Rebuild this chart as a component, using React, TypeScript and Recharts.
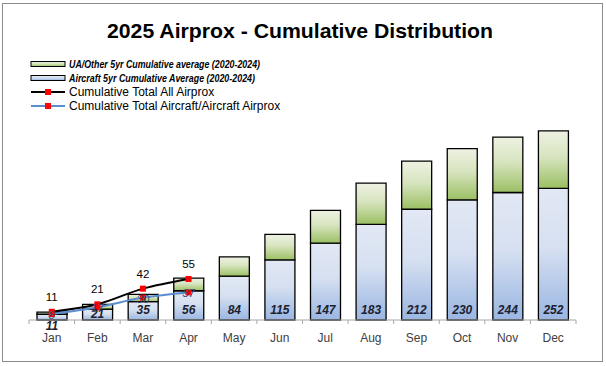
import React from 'react';
import { ComposedChart, Bar, Line, XAxis, YAxis, LabelList, Legend } from 'recharts';

const months = ['Jan', 'Feb', 'Mar', 'Apr', 'May', 'Jun', 'Jul', 'Aug', 'Sep', 'Oct', 'Nov', 'Dec'];
const aircraftAvg = [11, 21, 35, 56, 84, 115, 147, 183, 212, 230, 244, 252];
const uaOtherAvg = [4, 9, 14, 24, 37, 49, 63, 79, 92, 98, 106, 110];
const totalAll = [11, 21, 42, 55];
const totalAircraft = [8, 17, 30, 37];

const TITLE = '2025 Airprox - Cumulative Distribution';
const LEGEND_UA = 'UA/Other 5yr Cumulative average (2020-2024)';
const LEGEND_AC = 'Aircraft 5yr Cumulative Average (2020-2024)';
const LEGEND_ALL = 'Cumulative Total All Airprox';
const LEGEND_ACAC = 'Cumulative Total Aircraft/Aircraft Airprox';

const data = months.map((m, i) => ({
  month: m,
  aircraft: aircraftAvg[i],
  ua: uaOtherAvg[i],
  all: i < totalAll.length ? totalAll[i] : null,
  acac: i < totalAircraft.length ? totalAircraft[i] : null,
}));

const W = 606;
const H = 366;
const MARGIN = { top: 111, right: 30, left: 29, bottom: 16 };
const BAND = (W - MARGIN.left - MARGIN.right) / months.length;
const FONT = '"Liberation Sans", Arial, sans-serif';

const GradDefs = ({ prefix }: { prefix: string }) => (
  <defs>
    <linearGradient id={`${prefix}blue`} x1="0" y1="0" x2="0" y2="1">
      <stop offset="0%" stopColor="#e2e8f4" />
      <stop offset="45%" stopColor="#d6e0f1" />
      <stop offset="100%" stopColor="#9ab6e2" />
    </linearGradient>
    <linearGradient id={`${prefix}green`} x1="0" y1="0" x2="0" y2="1">
      <stop offset="0%" stopColor="#eef2e3" />
      <stop offset="45%" stopColor="#d7e4bf" />
      <stop offset="100%" stopColor="#9bc063" />
    </linearGradient>
  </defs>
);

const RedSquare = (props: any) => {
  const { cx, cy, value } = props;
  if (value === null || value === undefined || cx == null || cy == null) return null;
  return <rect x={cx - 3} y={cy - 3} width={6} height={6} fill="#ff0000" />;
};

const BarBaseLabel = (props: any) => {
  const { x, y, width, height, value } = props;
  const base = y + height;
  const cy = height < 8 ? base + 6 : Math.max(base - 10, y + 5);
  return (
    <text x={x + width / 2} y={cy} textAnchor="middle" dominantBaseline="central"
      fontSize={12} fontWeight="bold" fontStyle="italic" fill="#1c2230" fontFamily={FONT}>
      {value}
    </text>
  );
};

const AllLabel = (props: any) => {
  const { x, y, value } = props;
  if (value === null || value === undefined) return null;
  return (
    <text x={x} y={y - 15} textAnchor="middle" dominantBaseline="central"
      fontSize={11.5} fill="#000" fontFamily={FONT}>
      {value}
    </text>
  );
};

const AcLabel = (props: any) => {
  const { x, y, value } = props;
  if (value === null || value === undefined) return null;
  return (
    <text x={x} y={y + 1} textAnchor="middle" dominantBaseline="central"
      fontSize={11.5} fill="#3a5078" fontStyle="italic" fontFamily={FONT}>
      {value}
    </text>
  );
};

const MonthTick = (props: any) => {
  const { x, y, payload, index } = props;
  const last = index === months.length - 1;
  return (
    <g>
      <line x1={x - BAND / 2} x2={x - BAND / 2} y1={y} y2={y + 4} stroke="#a6a6a6" />
      {last && <line x1={x + BAND / 2} x2={x + BAND / 2} y1={y} y2={y + 4} stroke="#a6a6a6" />}
      <text x={x} y={y + 18} textAnchor="middle" dominantBaseline="central"
        fontSize={12} fill="#404040" fontFamily={FONT}>
        {payload.value}
      </text>
    </g>
  );
};

const LegendContent = () => {
  const rows = [64, 78, 92, 106];
  return (
    <svg width={W} height={120} style={{ display: 'block' }}>
      <GradDefs prefix="lg" />
      <rect x={31} y={rows[0] - 2.5} width={34} height={5} fill="url(#lggreen)" stroke="#000" strokeWidth={1} />
      <text x={69} y={rows[0]} dominantBaseline="central" fontSize={10.5} fontWeight="bold" fontStyle="italic"
        fontFamily={FONT} fill="#000" textLength={191} lengthAdjust="spacingAndGlyphs">{LEGEND_UA}</text>
      <rect x={31} y={rows[1] - 2.5} width={34} height={5} fill="url(#lgblue)" stroke="#000" strokeWidth={1} />
      <text x={69} y={rows[1]} dominantBaseline="central" fontSize={10.5} fontWeight="bold" fontStyle="italic"
        fontFamily={FONT} fill="#000" textLength={186} lengthAdjust="spacingAndGlyphs">{LEGEND_AC}</text>
      <line x1={31} x2={65} y1={rows[2]} y2={rows[2]} stroke="#000" strokeWidth={2} />
      <rect x={45} y={rows[2] - 3} width={6} height={6} fill="#ff0000" />
      <text x={69} y={rows[2]} dominantBaseline="central" fontSize={12} fontFamily={FONT} fill="#000">{LEGEND_ALL}</text>
      <line x1={31} x2={65} y1={rows[3]} y2={rows[3]} stroke="#5a8dd0" strokeWidth={2} />
      <rect x={45} y={rows[3] - 3} width={6} height={6} fill="#ff0000" />
      <text x={69} y={rows[3]} dominantBaseline="central" fontSize={12} fontFamily={FONT} fill="#000">{LEGEND_ACAC}</text>
    </svg>
  );
};

export default function App() {
  return (
    <div style={{ position: 'absolute', left: 0, top: 0, width: W, height: H, background: '#fff' }}>
      <div style={{ position: 'absolute', left: 2, top: 3, width: 601, height: 359, boxSizing: 'border-box', border: '1px solid #8a8a8a' }} />
      <svg width={W} height={60} style={{ position: 'absolute', left: 0, top: 0 }}>
        <text x={300} y={38} textAnchor="middle" fontSize={21} fontWeight="bold" fontFamily={FONT}
          fill="#000" textLength={386} lengthAdjust="spacingAndGlyphs">{TITLE}</text>
      </svg>
      <div style={{ position: 'absolute', left: 0, top: 0 }}>
        <ComposedChart width={W} height={H} data={data} margin={MARGIN} barSize={30}>
          <GradDefs prefix="ch" />
          <XAxis dataKey="month" axisLine={{ stroke: '#a6a6a6' }} tickLine={false} tickSize={0} tickMargin={0}
            height={30} interval={0} tick={<MonthTick />} />
          <YAxis yAxisId="left" hide domain={[0, 400]} />
          <YAxis yAxisId="right" orientation="right" hide domain={[0, 280]} />
          <Legend layout="vertical" align="center" verticalAlign="middle" content={<LegendContent />}
            wrapperStyle={{ left: 0, top: 0, width: W, height: 120 }} />
          <Bar yAxisId="left" dataKey="aircraft" name={LEGEND_AC} stackId="a" fill="url(#chblue)" stroke="#000"
            strokeWidth={1.3} isAnimationActive={false}>
            <LabelList dataKey="aircraft" content={<BarBaseLabel />} />
          </Bar>
          <Bar yAxisId="left" dataKey="ua" name={LEGEND_UA} stackId="a" fill="url(#chgreen)" stroke="#000"
            strokeWidth={1.3} isAnimationActive={false} />
          <Line yAxisId="right" type="monotone" dataKey="all" name={LEGEND_ALL} stroke="#000" strokeWidth={2}
            dot={<RedSquare />} activeDot={false} isAnimationActive={false}>
            <LabelList dataKey="all" content={<AllLabel />} />
          </Line>
          <Line yAxisId="right" type="monotone" dataKey="acac" name={LEGEND_ACAC} stroke="#5a8dd0" strokeWidth={2}
            dot={<RedSquare />} activeDot={false} isAnimationActive={false}>
            <LabelList dataKey="acac" content={<AcLabel />} />
          </Line>
        </ComposedChart>
      </div>
    </div>
  );
}
